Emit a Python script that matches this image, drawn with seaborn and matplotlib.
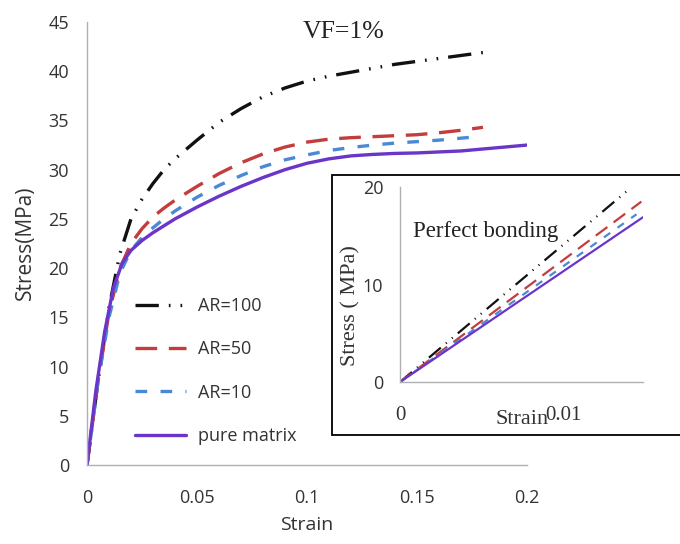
import numpy as np
import pandas as pd
import matplotlib
matplotlib.use("Agg")
import matplotlib.pyplot as plt
import seaborn as sns
from matplotlib.patches import Rectangle

sns.set_theme(style="white")
plt.rcParams['font.family'] = ['Open Sans', 'DejaVu Sans']

# ---------------- data (main panel, VF=1%) ----------------
labels = ["AR=100", "AR=50", "AR=10", "pure matrix"]

strain_ar100 = [0, 0.005, 0.01, 0.015, 0.02, 0.025, 0.03, 0.035, 0.04, 0.05, 0.06, 0.07, 0.08,
                0.09, 0.10, 0.11, 0.12, 0.13, 0.14, 0.15, 0.16, 0.17, 0.18]
stress_ar100 = [0, 8.5, 16.0, 21.5, 25.0, 27.0, 28.6, 30.0, 31.1, 33.0, 34.8, 36.2, 37.4,
                38.3, 39.0, 39.5, 39.9, 40.3, 40.7, 41.0, 41.3, 41.6, 41.9]

strain_ar50 = [0, 0.005, 0.01, 0.015, 0.02, 0.025, 0.03, 0.035, 0.04, 0.05, 0.06, 0.07, 0.08,
               0.09, 0.10, 0.11, 0.12, 0.13, 0.14, 0.15, 0.16, 0.17, 0.18]
stress_ar50 = [0, 8.5, 15.5, 20.0, 22.5, 24.0, 25.2, 26.1, 26.9, 28.3, 29.6, 30.7, 31.6,
               32.3, 32.8, 33.1, 33.25, 33.35, 33.45, 33.55, 33.75, 34.0, 34.3]

strain_ar10 = [0, 0.005, 0.01, 0.015, 0.02, 0.025, 0.03, 0.035, 0.04, 0.05, 0.06, 0.07, 0.08,
               0.09, 0.10, 0.11, 0.12, 0.13, 0.14, 0.15, 0.16, 0.17, 0.175]
stress_ar10 = [0, 8.5, 15.0, 19.5, 21.8, 23.1, 24.1, 25.0, 25.8, 27.2, 28.4, 29.4, 30.3,
               31.0, 31.5, 31.95, 32.25, 32.5, 32.7, 32.85, 33.0, 33.2, 33.3]

strain_pure = [0, 0.004, 0.008, 0.012, 0.016, 0.02, 0.025, 0.03, 0.035, 0.04, 0.05, 0.06, 0.07,
               0.08, 0.09, 0.10, 0.11, 0.12, 0.13, 0.14, 0.15, 0.16, 0.17, 0.18,
               0.19, 0.20]
stress_pure = [0, 7.5, 13.5, 18.0, 20.5, 21.8, 22.8, 23.6, 24.3, 25.0, 26.2, 27.3, 28.3,
               29.2, 30.0, 30.65, 31.1, 31.4, 31.55, 31.65, 31.7, 31.8, 31.9, 32.1,
               32.3, 32.5]

x_ticks = [0, 0.05, 0.1, 0.15, 0.2]
x_ticklabels = ["0", "0.05", "0.1", "0.15", "0.2"]
y_ticks = [0, 5, 10, 15, 20, 25, 30, 35, 40, 45]

# ---------------- data (inset, perfect bonding) ----------------
inset_strain_ar100 = [0, 0.0140]
inset_stress_ar100 = [0, 19.7]
inset_strain_ar50 = [0, 0.0148]
inset_stress_ar50 = [0, 18.5]
inset_strain_ar10 = [0, 0.0145]
inset_stress_ar10 = [0, 17.2]
inset_strain_pure = [0, 0.0149]
inset_stress_pure = [0, 16.9]
inset_x_ticks = [0, 0.01]
inset_x_ticklabels = ["0", "0.01"]
inset_y_ticks = [0, 10, 20]

colors = ["#111111", "#c43c3c", "#4a8ad4", "#6a35c8"]
styles = [(0, (7, 3, 0.5, 3, 0.5, 3)), (0, (6.5, 3.5)), (0, (3.5, 4)), "-"]

main_series = [(strain_ar100, stress_ar100), (strain_ar50, stress_ar50),
               (strain_ar10, stress_ar10), (strain_pure, stress_pure)]
inset_series = [(inset_strain_ar100, inset_stress_ar100), (inset_strain_ar50, inset_stress_ar50),
                (inset_strain_ar10, inset_stress_ar10), (inset_strain_pure, inset_stress_pure)]

serif = ["Liberation Serif", "DejaVu Serif"]
txtc = "#333333"

fig = plt.figure(figsize=(6.8, 5.44), dpi=100)
ax = fig.add_axes([87 / 680, 1 - 465 / 544, 440 / 680, 443 / 544])

handles = []
for (xs, ys), lab, c, ls in zip(main_series, labels, colors, styles):
    df = pd.DataFrame({"Strain": xs, "Stress": ys})
    sns.lineplot(data=df, x="Strain", y="Stress", ax=ax, color=c, lw=2.4,
                 linestyle=ls, sort=False, estimator=None, label=lab, legend=False)
    handles.append(ax.lines[-1])

ax.set_xlim(0, 0.2)
ax.set_ylim(0, 45)
ax.set_xticks(x_ticks)
ax.set_xticklabels(x_ticklabels)
ax.set_yticks(y_ticks)
ax.tick_params(axis="both", length=0, labelsize=13, labelcolor=txtc)
ax.tick_params(axis="x", pad=17)
ax.tick_params(axis="y", pad=13)
for s in ["top", "right"]:
    ax.spines[s].set_visible(False)
for s in ["left", "bottom"]:
    ax.spines[s].set_color("#b0b0b0")
    ax.spines[s].set_linewidth(1.0)
ax.set_xlabel("Strain", fontsize=14, color=txtc)
ax.xaxis.set_label_coords(0.5, (465 - 525) / 443)
ax.xaxis.label.set_va("center")
ax.set_ylabel("Stress(MPa)", fontsize=15, color=txtc)
ax.yaxis.set_label_coords((25 - 87) / 440, (465 - 243) / 443)
ax.yaxis.label.set_va("center")
ax.text(0.1168, 44.0, "VF=1%", family=serif, fontsize=18.5,
        ha="center", va="center", color="#222222")

leg = fig.legend(handles=handles, labels=labels, loc="upper left",
                 bbox_to_anchor=(135 / 680, 1 - 297 / 544), frameon=False,
                 borderaxespad=0, borderpad=0,
                 fontsize=13, handlelength=2.8, labelspacing=1.4, handletextpad=0.7)
for t in leg.get_texts():
    t.set_color(txtc)

# inset box
box = Rectangle((332 / 680, 1 - 435 / 544), 0.6, 260 / 544, transform=fig.transFigure,
                facecolor="white", edgecolor="black", lw=1.3, zorder=5)
fig.patches.append(box)

axi = fig.add_axes([400 / 680, 1 - 382 / 544, 243 / 680, 195 / 544])
axi.set_zorder(6)
axi.patch.set_alpha(0)
for (xs, ys), lab, c, ls in zip(inset_series, labels, colors, styles):
    df = pd.DataFrame({"Strain": xs, "Stress": ys})
    sns.lineplot(data=df, x="Strain", y="Stress", ax=axi, color=c, lw=1.6,
                 linestyle=ls, sort=False, estimator=None, legend=False)
axi.set_xlim(0, 0.0149)
axi.set_ylim(0, 20)
axi.set_xticks(inset_x_ticks)
axi.set_xticklabels(inset_x_ticklabels, family=serif, fontsize=15)
axi.set_yticks(inset_y_ticks)
axi.tick_params(axis="x", length=5, direction="in", pad=17, labelcolor=txtc, color="#b0b0b0")
axi.tick_params(axis="y", length=4, direction="out", pad=8, labelsize=13,
                labelcolor=txtc, color="#b0b0b0")
for s in ["top", "right"]:
    axi.spines[s].set_visible(False)
for s in ["left", "bottom"]:
    axi.spines[s].set_color("#b0b0b0")
    axi.spines[s].set_linewidth(1.0)
axi.set_xlabel("Strain", family=serif, fontsize=16, color=txtc)
axi.xaxis.set_label_coords((522 - 400) / 243, (382 - 419) / 195)
axi.xaxis.label.set_va("center")
axi.set_ylabel("Stress ( MPa)", family=serif, fontsize=16, color=txtc)
axi.yaxis.set_label_coords((351 - 400) / 243, (382 - 306) / 195)
axi.yaxis.label.set_va("center")
axi.text((413 - 400) / 243, (382 - 232) / 195, "Perfect bonding", transform=axi.transAxes,
         family=serif, fontsize=16.5, color="#222222", ha="left", va="center")

fig.savefig("out.png", dpi=100)
